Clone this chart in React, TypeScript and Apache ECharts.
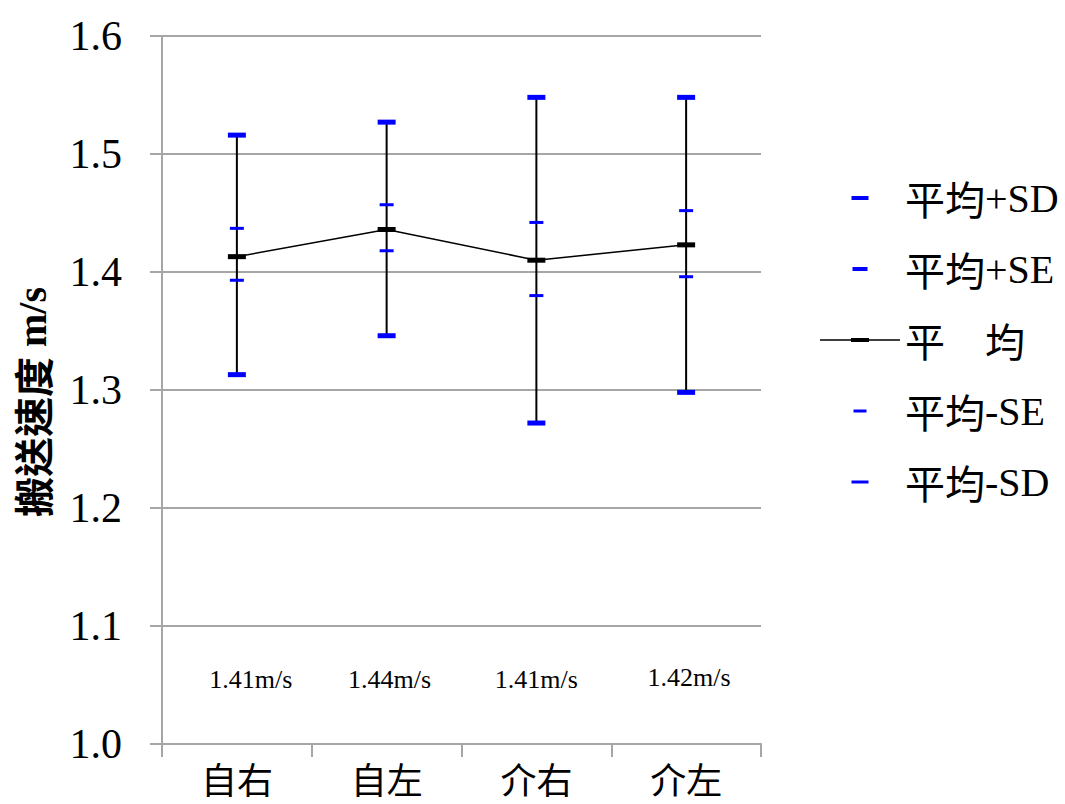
import React, { useEffect, useRef } from "react";
import * as echarts from "echarts";

// Categories and per-category statistics of the transport speed (m/s)
const categories = ["自右", "自左", "介右", "介左"];
const meanValues = [1.413, 1.436, 1.41, 1.423];
const plusSD = [1.516, 1.527, 1.548, 1.548];
const plusSE = [1.437, 1.457, 1.442, 1.452];
const minusSE = [1.393, 1.418, 1.38, 1.396];
const minusSD = [1.313, 1.346, 1.272, 1.298];
const yTicks = [1.0, 1.1, 1.2, 1.3, 1.4, 1.5, 1.6];

// Level (in axis units) at which the mean annotations are written
const annotationLevel = 1.055;
// Small hand-placed nudges (px) of the annotation text boxes
const annotationNudgeX = [14, 3, 0, 3];
const annotationNudgeY = [0, 0, 0, -2];

const SERIF = '"Liberation Serif", "Times New Roman", serif';
const CJK = '"Noto Sans CJK TC", "Noto Sans CJK SC", sans-serif';
const LATIN_FONT = '"Liberation Serif", "Times New Roman", "Noto Sans CJK TC", serif';
const BLUE = "#0000ff";
const GRAY = "#a6a6a6";

// Legend icons: an 80x20 box (two leading moveTo points fix the bounds)
const BOX = "path://M0 0 M80 20 ";
const iconPlusSD = BOX + "M31.5 8 h17 v4 h-17 z";
const iconPlusSE = BOX + "M32.5 8 h15 v4 h-15 z";
const iconMean = BOX + "M0 9.25 h80 v1.5 h-80 z M31 8 h18 v4 h-18 z";
const iconMinusSE = BOX + "M33.5 8.5 h13 v3 h-13 z";
const iconMinusSD = BOX + "M31.5 8.5 h17 v3 h-17 z";

// Split a label into CJK and Latin runs so each gets its own face
function richRuns(text: string): string {
  const parts = text.match(/[\u3000-\u9fff]+|[^\u3000-\u9fff]+/g) || [];
  return parts
    .map((p) => (/[\u3000-\u9fff]/.test(p) ? `{c|${p}}` : `{l|${p}}`))
    .join("");
}

export default function App() {
  const ref = useRef<HTMLDivElement>(null);

  useEffect(() => {
    if (!ref.current) return;
    const chart = echarts.init(ref.current, undefined, { renderer: "svg" });

    const capSeries = (name: string, values: number[], w: number, h: number) => ({
      name,
      type: "scatter",
      data: values.map((v, i) => [i, v]),
      symbol: "rect",
      symbolSize: [w, h],
      itemStyle: { color: BLUE, opacity: 1 },
      z: 5,
      silent: true,
    });

    chart.setOption({
      animation: false,
      backgroundColor: "#ffffff",
      grid: { left: 162, right: 304, top: 36, bottom: 60, containLabel: false },
      legend: {
        orient: "vertical",
        left: 815,
        top: 173,
        itemWidth: 80,
        itemHeight: 20,
        itemGap: 31,
        selectedMode: false,
        itemStyle: { opacity: 1 },
        textStyle: {
          fontFamily: LATIN_FONT,
          fontSize: 40,
          color: "#000",
          lineHeight: 40,
          rich: {
            c: { fontFamily: CJK, fontSize: 40, color: "#000", lineHeight: 40 },
            l: { fontFamily: SERIF, fontSize: 40, color: "#000", lineHeight: 40 },
          },
        },
        formatter: (name: string) => richRuns(name === "平均" ? "平\u3000均" : name),
        data: [
          { name: "平均+SD", icon: iconPlusSD },
          { name: "平均+SE", icon: iconPlusSE },
          { name: "平均", icon: iconMean },
          { name: "平均-SE", icon: iconMinusSE },
          { name: "平均-SD", icon: iconMinusSD },
        ],
      },
      xAxis: {
        type: "category",
        data: categories,
        boundaryGap: true,
        axisLine: { lineStyle: { color: GRAY, width: 2 } },
        axisTick: { show: true, length: 13, lineStyle: { color: GRAY, width: 2 } },
        axisLabel: {
          color: "#000",
          fontSize: 36,
          lineHeight: 36,
          fontFamily: CJK,
          margin: 16,
        },
        splitLine: { show: false },
      },
      yAxis: {
        type: "value",
        min: yTicks[0],
        max: yTicks[yTicks.length - 1],
        interval: 0.1,
        name: richRuns("搬送速度 m/s"),
        nameLocation: "middle",
        nameRotate: 90,
        nameGap: 110,
        nameTextStyle: {
          fontFamily: LATIN_FONT,
          fontSize: 40,
          fontWeight: "bold",
          color: "#000",
          padding: [0, 24, 0, 0],
          rich: {
            c: { fontFamily: CJK, fontSize: 40, fontWeight: "bold", color: "#000" },
            l: { fontFamily: SERIF, fontSize: 40, fontWeight: "bold", color: "#000" },
          },
        },
        axisLine: { show: true, lineStyle: { color: GRAY, width: 2 } },
        axisTick: { show: true, length: 12, lineStyle: { color: GRAY, width: 2 } },
        axisLabel: {
          color: "#000",
          fontSize: 42,
          fontFamily: SERIF,
          margin: 40,
          formatter: (v: number) => v.toFixed(1),
        },
        splitLine: { show: true, lineStyle: { color: GRAY, width: 2 } },
      },
      series: [
        {
          // Whiskers spanning mean-SD .. mean+SD
          name: "range",
          type: "custom",
          silent: true,
          z: 2,
          data: categories.map((_, i) => [i, minusSD[i], plusSD[i]]),
          encode: { x: 0, y: [1, 2] },
          renderItem: (_params: any, api: any) => {
            const lo = api.coord([api.value(0), api.value(1)]);
            const hi = api.coord([api.value(0), api.value(2)]);
            return {
              type: "line",
              shape: { x1: lo[0], y1: lo[1], x2: hi[0], y2: hi[1] },
              style: { stroke: "#000", lineWidth: 2 },
            };
          },
        },
        {
          name: "平均",
          type: "line",
          data: meanValues.map((v, i) => [i, v]),
          symbol: "rect",
          symbolSize: [18, 5],
          showAllSymbol: true,
          lineStyle: { color: "#000", width: 1.5 },
          itemStyle: { color: "#000", borderWidth: 0, opacity: 1 },
          z: 4,
          silent: true,
        },
        capSeries("平均+SD", plusSD, 18, 5),
        capSeries("平均+SE", plusSE, 14, 3),
        capSeries("平均-SE", minusSE, 14, 3),
        capSeries("平均-SD", minusSD, 18, 5),
        {
          // Rounded mean written under each group
          name: "meanText",
          type: "custom",
          silent: true,
          z: 6,
          data: meanValues.map((v, i) => [i, annotationLevel, v]),
          encode: { x: 0, y: 1 },
          renderItem: (params: any, api: any) => {
            const i = params.dataIndex;
            const p = api.coord([api.value(0), api.value(1)]);
            return {
              type: "text",
              x: p[0] + annotationNudgeX[i],
              y: p[1] + annotationNudgeY[i],
              style: {
                text: Number(api.value(2)).toFixed(2) + "m/s",
                fontFamily: SERIF,
                fontSize: 26,
                fill: "#000",
                align: "center",
                verticalAlign: "middle",
              },
            };
          },
        },
      ],
    });

    return () => chart.dispose();
  }, []);

  return (
    <div
      ref={ref}
      style={{ position: "fixed", left: 0, top: 0, width: 1065, height: 804, background: "#fff" }}
    />
  );
}
